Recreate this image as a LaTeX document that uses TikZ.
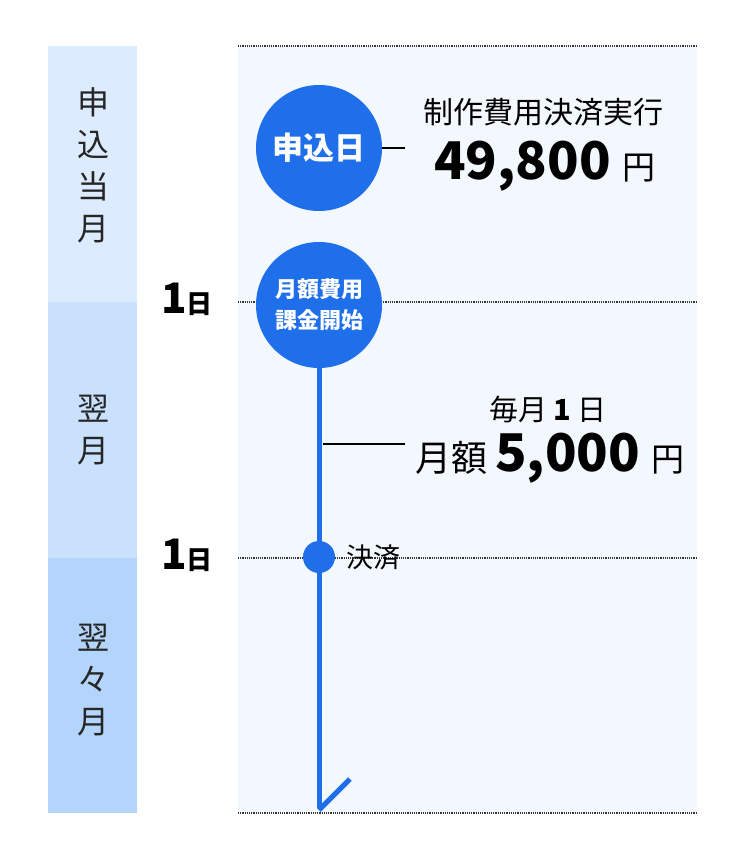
\documentclass[tikz,border=0pt]{standalone}
\usepackage{fontspec}
\setmainfont{Noto Sans CJK JP}
\definecolor{bl}{HTML}{1F6FEA}
\definecolor{b1}{HTML}{DCEBFD}
\definecolor{b2}{HTML}{C9E1FD}
\definecolor{b3}{HTML}{B3D5FC}
\definecolor{pn}{HTML}{F3F8FE}
\begin{document}
\begin{tikzpicture}[x=1pt,y=-1pt,
  dot/.style={densely dotted,line width=1.2pt,black!80},
  big/.style={circle,fill=bl,minimum size=126pt,inner sep=0pt,text=white,align=center},
  lbl/.style={align=center,font=\fontsize{32}{42}\selectfont,text=black!85}]
\useasboundingbox (0,0) rectangle (750,858);
\fill[pn] (238,46) rectangle (697,813);
\fill[b1] (48,46) rectangle (137,302);
\fill[b2] (48,302) rectangle (137,558);
\fill[b3] (48,558) rectangle (137,813);
\foreach \y in {46,302,558,813} \draw[dot] (238,\y) -- (697,\y);
\node[lbl] (m0) at (93,165) {申\\込\\当\\月};
\node[lbl] (m1) at (93,430) {翌\\月};
\node[lbl] (m2) at (93,680) {翌\\々\\月};
\node (d1) at (187,299) {\bfseries\fontsize{42}{42}\selectfont 1\fontsize{26}{26}\selectfont 日};
\node (d2) at (187,555) {\bfseries\fontsize{42}{42}\selectfont 1\fontsize{26}{26}\selectfont 日};
\draw[bl,line width=5pt] (319,340) -- (319,808);
\draw[bl,line width=5pt] (319,810) -- (350,779);
\node[big,font=\fontsize{31}{36}\selectfont\bfseries] (c1) at (319,148) {申込日};
\node[big,font=\fontsize{22}{31}\selectfont\bfseries] (c2) at (319,305) {月額費用\\課金開始};
\node[circle,fill=bl,minimum size=32pt,inner sep=0pt] (s) at (319,557) {};
\node[anchor=west,font=\fontsize{27}{27}\selectfont] (k) at (343,557) {決済};
\coordinate (e1) at (405,148);
\draw[line width=1.2pt] (c1.east) -- (e1);
\node[font=\fontsize{30}{30}\selectfont] (t1) at (543,112) {制作費用決済実行};
\node (t2) at (545,166) {\bfseries\fontsize{52}{52}\selectfont 49,800 \mdseries\fontsize{33}{33}\selectfont 円};
\coordinate (a2) at (323,444); \coordinate (e2) at (405,444);
\draw[line width=1.2pt] (a2) -- (e2);
\node[font=\fontsize{29}{29}\selectfont] (t3) at (548,410) {毎月 \textbf{1} 日};
\node (t4) at (550,458) {\fontsize{36}{36}\selectfont 月額 \bfseries\fontsize{52}{52}\selectfont 5,000 \mdseries\fontsize{33}{33}\selectfont 円};
\end{tikzpicture}
\end{document}
